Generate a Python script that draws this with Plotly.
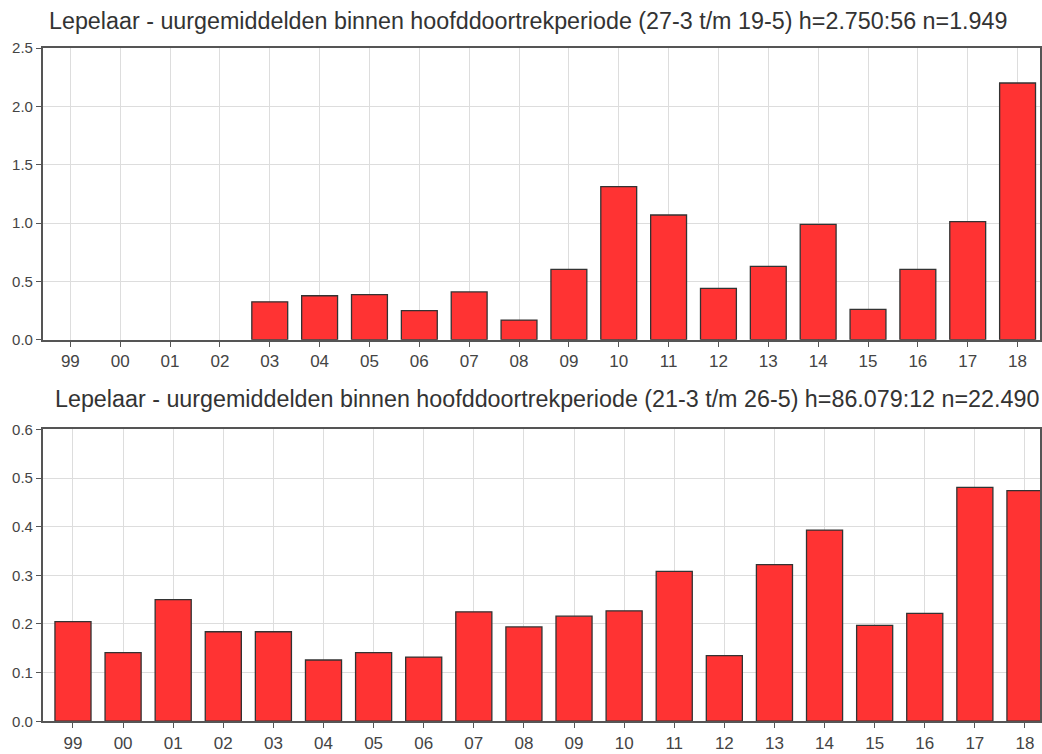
import plotly.graph_objects as go

years = ["99", "00", "01", "02", "03", "04", "05", "06", "07", "08",
         "09", "10", "11", "12", "13", "14", "15", "16", "17", "18"]

top_values = [0, 0, 0, 0, 0.325, 0.377, 0.386, 0.249, 0.41, 0.169,
              0.603, 1.312, 1.069, 0.44, 0.629, 0.989, 0.26, 0.603, 1.012, 2.2]
bottom_values = [0.205, 0.141, 0.25, 0.184, 0.184, 0.126, 0.141, 0.132, 0.225, 0.194,
                 0.216, 0.227, 0.308, 0.135, 0.322, 0.393, 0.197, 0.222, 0.481, 0.474]

top_title = "Lepelaar - uurgemiddelden binnen hoofddoortrekperiode (27-3 t/m 19-5) h=2.750:56 n=1.949"
bottom_title = "Lepelaar - uurgemiddelden binnen hoofddoortrekperiode (21-3 t/m 26-5) h=86.079:12 n=22.490"

top_yticks = [0.0, 0.5, 1.0, 1.5, 2.0, 2.5]
bottom_yticks = [0.0, 0.1, 0.2, 0.3, 0.4, 0.5, 0.6]

W, H = 1042, 754
xpos = list(range(len(years)))

bar_style = dict(marker=dict(color="#ff3333", line=dict(color="#333333", width=1.3)),
                 width=0.72, showlegend=False, hoverinfo="x+y")

fig = go.Figure()
# zero values are drawn as empty (no bar outline on the axis)
fig.add_trace(go.Bar(x=xpos, y=[v if v != 0 else None for v in top_values],
                     xaxis="x", yaxis="y", **bar_style))
fig.add_trace(go.Bar(x=xpos, y=[v if v != 0 else None for v in bottom_values],
                     xaxis="x2", yaxis="y2", **bar_style))

FONT = "Liberation Sans, Arial, sans-serif"
xtickfont = dict(family=FONT, size=17, color="#444444")
ytickfont = dict(family=FONT, size=15, color="#444444")

def xaxis(anchor, rng, mirror=True):
    return dict(anchor=anchor, domain=[43 / W, 1.0], range=rng,
                tickmode="array", tickvals=xpos, ticktext=years,
                showgrid=True, gridcolor="#dddddd", gridwidth=1,
                showline=True, linecolor="#555555", linewidth=2, mirror=mirror,
                ticks="outside", ticklen=5, tickcolor="#555555",
                tickfont=xtickfont, zeroline=False, fixedrange=True)

def yaxis(anchor, dom, rng, ticks):
    return dict(anchor=anchor, domain=dom, range=rng,
                tickmode="array", tickvals=ticks, ticktext=[f"{t:.1f}" for t in ticks],
                showgrid=True, gridcolor="#dddddd", gridwidth=1,
                showline=True, linecolor="#555555", linewidth=2, mirror=True,
                ticks="outside", ticklen=5, tickcolor="#555555",
                tickfont=ytickfont, zeroline=False, fixedrange=True)

fig.update_layout(
    autosize=True,
    margin=dict(l=0, r=0, t=0, b=0),
    paper_bgcolor="white", plot_bgcolor="white",
    xaxis=xaxis("y", [-0.55, 19.45]),
    yaxis=yaxis("x", [1 - 338.4 / H, 1 - 39.9 / H], [0, 2.5], top_yticks),
    xaxis2=xaxis("y2", [-0.6, 19.3]),
    yaxis2=yaxis("x2", [1 - 728.7 / H, 1 - 430.1 / H], [0, 0.6], bottom_yticks),
    annotations=[
        dict(text=top_title, xref="paper", yref="paper", x=47 / W, y=1 - 12 / H,
             xanchor="left", yanchor="middle", showarrow=False,
             font=dict(family=FONT, size=23.3, color="#333333")),
        dict(text=bottom_title, xref="paper", yref="paper", x=53 / W, y=1 - 399 / H,
             xanchor="left", yanchor="middle", showarrow=False,
             font=dict(family=FONT, size=23.3, color="#333333")),
    ],
)

fig.write_html("out.html",
               default_width="100vw", default_height="100vh",
               config={"displayModeBar": False, "responsive": True},
               post_script="document.body.style.margin='0';document.body.style.overflow='hidden';")
